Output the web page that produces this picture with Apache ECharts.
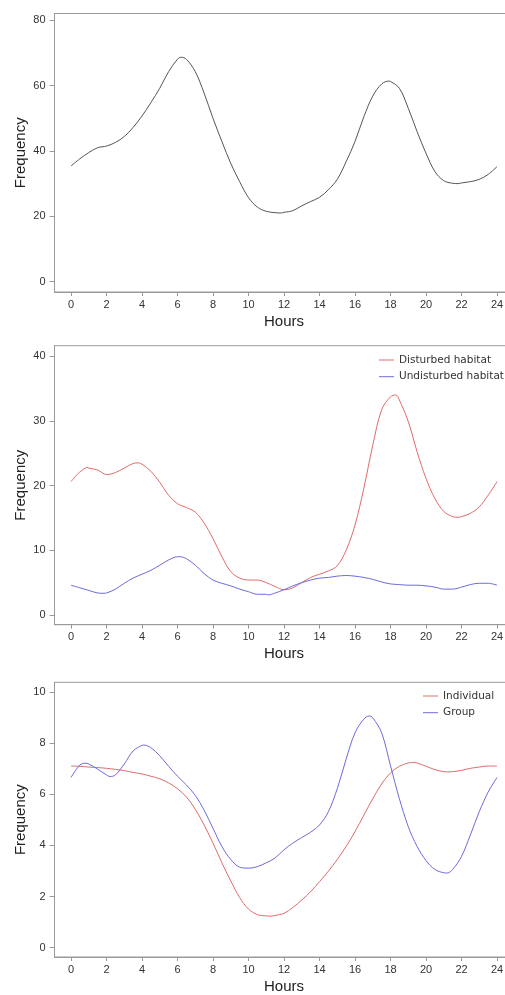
<!DOCTYPE html>
<html>
<head>
<meta charset="utf-8">
<script src="https://cdn.jsdelivr.net/npm/echarts@6/dist/echarts.min.js"></script>
<style>
  html, body { margin: 0; padding: 0; background: #fff; overflow: hidden; }
  /* wider than the window on purpose: the right edge of each frame runs off the page */
  #chart { width: 520px; height: 995px; }
</style>
</head>
<body>
<div id="chart"></div>
<script>
// Hours of day, sampled every half hour
const hours = [
  0, 0.5, 1, 1.5, 2, 2.5, 3, 3.5, 4, 4.5, 5, 5.5, 6, 6.5, 7, 7.5, 8, 8.5, 9, 9.5,
  10, 10.5, 11, 11.5, 12, 12.5, 13, 13.5, 14, 14.5, 15, 15.5, 16, 16.5, 17, 17.5,
  18, 18.5, 19, 19.5, 20, 20.5, 21, 21.5, 22, 22.5, 23, 23.5, 24
];

// Panel 1: all records
const allFreq = [
  35.4, 37.6, 39.5, 41.0, 41.5, 42.6, 44.4, 47.2, 50.7, 54.8, 59.2, 64.3, 68.1, 68.1,
  64.3, 57.7, 50.0, 42.9, 36.2, 30.6, 25.7, 22.8, 21.5, 21.1, 21.2, 21.7, 23.2, 24.5,
  25.8, 28.1, 31.3, 36.7, 42.9, 50.5, 56.8, 60.5, 61.3, 59.2, 53.1, 45.9, 39.3, 33.7,
  30.9, 30.1, 30.2, 30.6, 31.3, 32.8, 35.2
];
// peaks and troughs read between the half-hour samples: [hour, value]
const allTurns = [[6.2, 68.7], [11.85, 21.0], [17.9, 61.4], [21.8, 30.0]];

// Panel 2: habitat
const disturbed = [
  20.6, 22.1, 22.7, 22.4, 21.7, 22.0, 22.7, 23.4, 23.3, 22.2, 20.5, 18.5, 17.2, 16.6,
  15.9, 14.2, 11.8, 9.0, 6.7, 5.7, 5.4, 5.4, 5.0, 4.4, 3.9, 4.2, 5.0, 5.8, 6.3, 6.8,
  7.6, 10.0, 13.9, 19.6, 26.2, 31.7, 33.7, 33.2, 29.9, 25.2, 21.1, 18.0, 16.0, 15.2,
  15.2, 15.7, 16.7, 18.5, 20.6
];
const disturbedTurns = [[0.95, 22.8], [3.8, 23.5], [12.05, 3.9], [18.3, 34.0], [21.8, 15.1]];
const undisturbed = [
  4.6, 4.2, 3.8, 3.4, 3.4, 4.0, 4.9, 5.7, 6.3, 6.9, 7.7, 8.5, 9.0, 8.7, 7.7, 6.4, 5.4,
  4.9, 4.5, 4.0, 3.6, 3.2, 3.2, 3.4, 3.9, 4.5, 5.0, 5.4, 5.7, 5.8, 6.0, 6.1, 6.0, 5.8,
  5.5, 5.1, 4.8, 4.7, 4.6, 4.6, 4.5, 4.3, 4.0, 4.0, 4.3, 4.7, 4.9, 4.9, 4.6
];
const undisturbedTurns = [[1.8, 3.35], [6.15, 9.0], [11.1, 3.1]];

// Panel 3: group size
const individual = [
  7.11, 7.10, 7.07, 7.05, 7.02, 6.98, 6.93, 6.86, 6.80, 6.71, 6.61, 6.45, 6.22, 5.90,
  5.42, 4.80, 4.09, 3.32, 2.61, 1.96, 1.51, 1.29, 1.24, 1.26, 1.34, 1.57, 1.86, 2.19,
  2.58, 2.99, 3.45, 3.96, 4.54, 5.19, 5.83, 6.41, 6.84, 7.10, 7.23, 7.23, 7.10, 6.97,
  6.89, 6.89, 6.94, 7.02, 7.07, 7.11, 7.11
];
const individualTurns = [[11.2, 1.23], [19.25, 7.25], [21.3, 6.88]];
const group = [
  6.66, 7.15, 7.19, 6.99, 6.76, 6.76, 7.19, 7.70, 7.92, 7.83, 7.51, 7.10, 6.71, 6.37,
  5.96, 5.38, 4.67, 3.96, 3.45, 3.15, 3.11, 3.17, 3.32, 3.51, 3.83, 4.09, 4.31, 4.52,
  4.80, 5.32, 6.22, 7.38, 8.41, 8.95, 9.00, 8.41, 7.12, 5.83, 4.74, 3.96, 3.41, 3.06,
  2.93, 3.06, 3.57, 4.41, 5.32, 6.09, 6.66
];
const groupTurns = [[0.8, 7.22], [2.2, 6.70], [4.1, 7.93], [10.0, 3.11], [16.8, 9.07], [21.2, 2.92]];

// Tick labels
const hourTicks = [0, 2, 4, 6, 8, 10, 12, 14, 16, 18, 20, 22, 24];
const freqTicks1 = [0, 20, 40, 60, 80];
const freqTicks2 = [0, 10, 20, 30, 40];
const freqTicks3 = [0, 2, 4, 6, 8, 10];

const AXIS_GRAY = "#999";
const TEXT = "#333";
const FONT = "Liberation Sans, Arial, sans-serif";
const RED = "#e06b6b";
const BLUE = "#6b6bdb";

// half-hour samples plus the turning points, in hour order
const pairs = (vals, turns) => {
  const pts = hours.map((h, i) => [h, vals[i]]);
  turns.forEach(t => {
    const at = pts.findIndex(p => p[0] === t[0]);
    if (at >= 0) pts[at] = t; else pts.push(t);
  });
  return pts.sort((a, b) => a[0] - b[0]);
};

/* ── panel layout ─────────────────────────────────── */
const panels = [
  { top: 13.5, height: 278.5, min: -3.2, max: 82.1, ticks: freqTicks1 },
  { top: 345.7, height: 279, min: -1.5, max: 41.6, ticks: freqTicks2 },
  { top: 682.3, height: 278, min: -0.37, max: 10.39, ticks: freqTicks3 },
];

const grids = panels.map(p => ({
  left: 54.5, top: p.top, width: 459, height: p.height,
  show: true, borderColor: AXIS_GRAY, borderWidth: 1, backgroundColor: "transparent",
}));

const xAxes = panels.map((p, i) => ({
  type: "value", gridIndex: i, min: -0.93, max: 24.93,
  name: "Hours", nameLocation: "middle", nameGap: 22, nameMoveOverlap: false,
  nameTextStyle: { fontFamily: FONT, fontSize: 15, color: "#222" },
  axisLine: { show: true, onZero: false, lineStyle: { color: AXIS_GRAY } },
  axisTick: { show: true, length: 4, customValues: hourTicks, lineStyle: { color: AXIS_GRAY } },
  axisLabel: { customValues: hourTicks, margin: 7, fontFamily: FONT, fontSize: 11, color: TEXT },
  splitLine: { show: false },
}));

const yAxes = panels.map((p, i) => ({
  type: "value", gridIndex: i, min: p.min, max: p.max,
  name: "Frequency", nameLocation: "middle", nameGap: 26, nameMoveOverlap: false,
  nameTextStyle: { fontFamily: FONT, fontSize: 15, color: "#222" },
  axisLine: { show: true, onZero: false, lineStyle: { color: AXIS_GRAY } },
  axisTick: { show: true, length: 5, customValues: p.ticks, lineStyle: { color: AXIS_GRAY } },
  axisLabel: { customValues: p.ticks, margin: 9, fontFamily: FONT, fontSize: 11, color: TEXT },
  splitLine: { show: false },
}));

const line = (name, vals, turns, idx, color) => ({
  name, type: "line", xAxisIndex: idx, yAxisIndex: idx,
  data: pairs(vals, turns), smooth: 0.35, symbol: "none",
  lineStyle: { color, width: 1 }, itemStyle: { color },
});

const legendBase = {
  orient: "vertical", icon: "rect", itemWidth: 15, itemHeight: 1, itemGap: 4.7,
  textStyle: { fontFamily: "DejaVu Sans", fontSize: 10.5, color: TEXT, lineHeight: 12 },
  selectedMode: false, padding: 0,
};

const chart = echarts.init(document.getElementById("chart"), null, { renderer: "canvas" });
chart.setOption({
  animation: false,
  backgroundColor: "#fff",
  grid: grids,
  xAxis: xAxes,
  yAxis: yAxes,
  legend: [
    { ...legendBase, left: 379, top: 354, data: ["Disturbed habitat", "Undisturbed habitat"] },
    { ...legendBase, left: 423, top: 690, data: ["Individual", "Group"] },
  ],
  series: [
    line("All", allFreq, allTurns, 0, "#555"),
    line("Disturbed habitat", disturbed, disturbedTurns, 1, RED),
    line("Undisturbed habitat", undisturbed, undisturbedTurns, 1, BLUE),
    line("Individual", individual, individualTurns, 2, RED),
    line("Group", group, groupTurns, 2, BLUE),
  ],
});
</script>
</body>
</html>
